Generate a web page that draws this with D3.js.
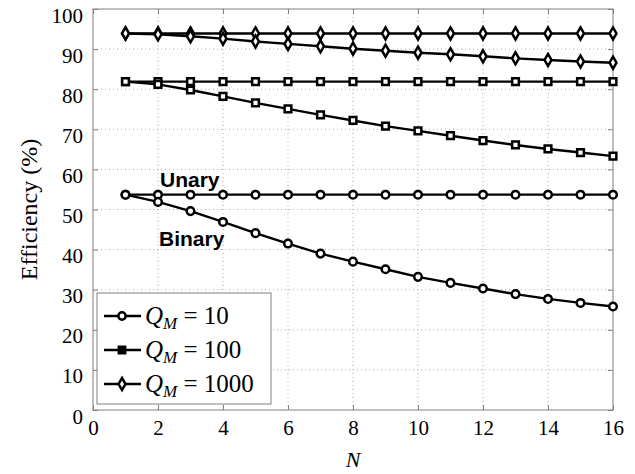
<!DOCTYPE html>
<html><head><meta charset="utf-8">
<script src="https://cdn.jsdelivr.net/npm/d3@7"></script>
<style>body{margin:0;background:#fff}svg{display:block}</style>
</head><body>
<script>
const N = [1,2,3,4,5,6,7,8,9,10,11,12,13,14,15,16];
const unary10   = [53.7,53.7,53.7,53.7,53.7,53.7,53.7,53.7,53.7,53.7,53.7,53.7,53.7,53.7,53.7,53.7];
const binary10  = [53.7,51.9,49.6,46.9,44.1,41.5,39.0,37.0,35.1,33.2,31.7,30.3,28.9,27.7,26.7,25.8];
const unary100  = [81.9,81.9,81.9,81.9,81.9,81.9,81.9,81.9,81.9,81.9,81.9,81.9,81.9,81.9,81.9,81.9];
const binary100 = [81.9,81.2,79.8,78.2,76.6,75.1,73.6,72.2,70.8,69.6,68.4,67.2,66.1,65.1,64.2,63.3];
const unary1000 = [93.9,93.9,93.9,93.9,93.9,93.9,93.9,93.9,93.9,93.9,93.9,93.9,93.9,93.9,93.9,93.9];
const binary1000= [93.9,93.7,93.2,92.6,91.9,91.3,90.7,90.1,89.6,89.1,88.7,88.2,87.7,87.3,86.9,86.6];
const xTicks = [0,2,4,6,8,10,12,14,16];
const yTicks = [0,10,20,30,40,50,60,70,80,90,100];
const legendLabels = ["10","100","1000"];

const W = 635, H = 474;
const m = {left:93, right:635-613, top:9, bottom:474-410};
const svg = d3.select("body").append("svg").attr("width",W).attr("height",H);
const x = d3.scaleLinear().domain([0,16]).range([m.left, W-m.right]);
const y = d3.scaleLinear().domain([0,100]).range([H-m.bottom, m.top]);
const serif = "'Liberation Serif','DejaVu Serif',serif";
const frameCol = "#808080";

// grid
const g = svg.append("g");
g.selectAll(".vg").data(xTicks.filter(t=>t>0&&t<16)).enter().append("line")
  .attr("x1",d=>x(d)).attr("x2",d=>x(d)).attr("y1",y(0)).attr("y2",y(100))
  .attr("stroke","#aaa").attr("stroke-width",1).attr("stroke-dasharray","1,3");
g.selectAll(".hg").data(yTicks.filter(t=>t>0&&t<100)).enter().append("line")
  .attr("y1",d=>y(d)).attr("y2",d=>y(d)).attr("x1",x(0)).attr("x2",x(16))
  .attr("stroke","#aaa").attr("stroke-width",1).attr("stroke-dasharray","1,3");

// axes with inward ticks
function styleAxis(sel){
  sel.attr("font-family",serif).attr("font-size",21);
  sel.select(".domain").remove();
  sel.selectAll(".tick line").attr("stroke",frameCol);
  sel.selectAll("text").attr("font-family",serif).attr("font-size",21).attr("fill","#000");
}
const xb = svg.append("g").attr("transform",`translate(0,${y(0)})`)
  .call(d3.axisBottom(x).tickValues(xTicks).tickSizeInner(-5).tickSizeOuter(0).tickPadding(10));
styleAxis(xb);
const xt = svg.append("g").attr("transform",`translate(0,${y(100)})`)
  .call(d3.axisTop(x).tickValues(xTicks).tickSizeInner(-5).tickSizeOuter(0).tickFormat(""));
styleAxis(xt);
const yl = svg.append("g").attr("transform",`translate(${x(0)},0)`)
  .call(d3.axisLeft(y).tickValues(yTicks).tickSizeInner(-5).tickSizeOuter(0).tickPadding(10));
styleAxis(yl);
yl.selectAll("text").attr("dy","0.62em");
const yr = svg.append("g").attr("transform",`translate(${x(16)},0)`)
  .call(d3.axisRight(y).tickValues(yTicks).tickSizeInner(-5).tickSizeOuter(0).tickFormat(""));
styleAxis(yr);
xb.selectAll("text").attr("dy","0.71em");

svg.append("rect").attr("x",x(0)).attr("y",y(100)).attr("width",x(16)-x(0)).attr("height",y(0)-y(100))
  .attr("fill","none").attr("stroke",frameCol).attr("stroke-width",1);

// series
const series = [
  {v:unary10, sym:d3.symbolCircle, size:45},
  {v:binary10, sym:d3.symbolCircle, size:45},
  {v:unary100, sym:d3.symbolSquare, size:45},
  {v:binary100, sym:d3.symbolSquare, size:45},
  {v:unary1000, sym:d3.symbolDiamond, size:42},
  {v:binary1000, sym:d3.symbolDiamond, size:42}
];
const line = d3.line().x((d,i)=>x(N[i])).y(d=>y(d));
series.forEach(s=>{
  svg.append("path").datum(s.v).attr("d",line).attr("fill","none").attr("stroke","#000").attr("stroke-width",2.4);
});
series.forEach(s=>{
  svg.selectAll(null).data(s.v).enter().append("path")
    .attr("transform",(d,i)=>`translate(${x(N[i])},${y(d)})`)
    .attr("d",d3.symbol().type(s.sym).size(s.size))
    .attr("fill","#fff").attr("stroke","#000").attr("stroke-width",2.5);
});

// annotations
svg.append("text").attr("x",160).attr("y",187).text("Unary")
  .attr("font-family","'Liberation Sans',Arial,sans-serif").attr("font-weight","bold").attr("font-size",21);
svg.append("text").attr("x",159).attr("y",246).text("Binary")
  .attr("font-family","'Liberation Sans',Arial,sans-serif").attr("font-weight","bold").attr("font-size",21);

// axis labels
svg.append("text").attr("transform",`translate(37,${(y(0)+y(100))/2}) rotate(-90)`)
  .attr("text-anchor","middle").attr("font-family",serif).attr("font-size",24).text("Efficiency (%)");
svg.append("text").attr("x",(x(0)+x(16))/2).attr("y",467).attr("text-anchor","middle")
  .attr("font-family",serif).attr("font-style","italic").attr("font-size",22).text("N");

// legend
const lg = svg.append("g");
lg.append("rect").attr("x",97).attr("y",293).attr("width",174).attr("height",111)
  .attr("fill","#fff").attr("stroke",frameCol).attr("stroke-width",1);
const lsyms = [d3.symbolCircle, d3.symbolSquare, d3.symbolDiamond];
legendLabels.forEach((lab,i)=>{
  const cy = 316 + i*34;
  lg.append("line").attr("x1",104).attr("x2",141).attr("y1",cy).attr("y2",cy).attr("stroke","#000").attr("stroke-width",2.4);
  lg.append("path").attr("transform",`translate(122,${cy})`).attr("d",d3.symbol().type(lsyms[i]).size(i===1?40:42))
    .attr("fill",i===1?"#000":"#fff").attr("stroke","#000").attr("stroke-width",2.5);
  const t = lg.append("text").attr("x",145).attr("y",cy+8).attr("font-family",serif).attr("font-size",25);
  t.append("tspan").attr("font-style","italic").text("Q");
  t.append("tspan").attr("font-style","italic").attr("font-size",17).attr("dy",5).text("M");
  t.append("tspan").attr("dy",-5).text(" = " + lab);
});
</script>
</body></html>
